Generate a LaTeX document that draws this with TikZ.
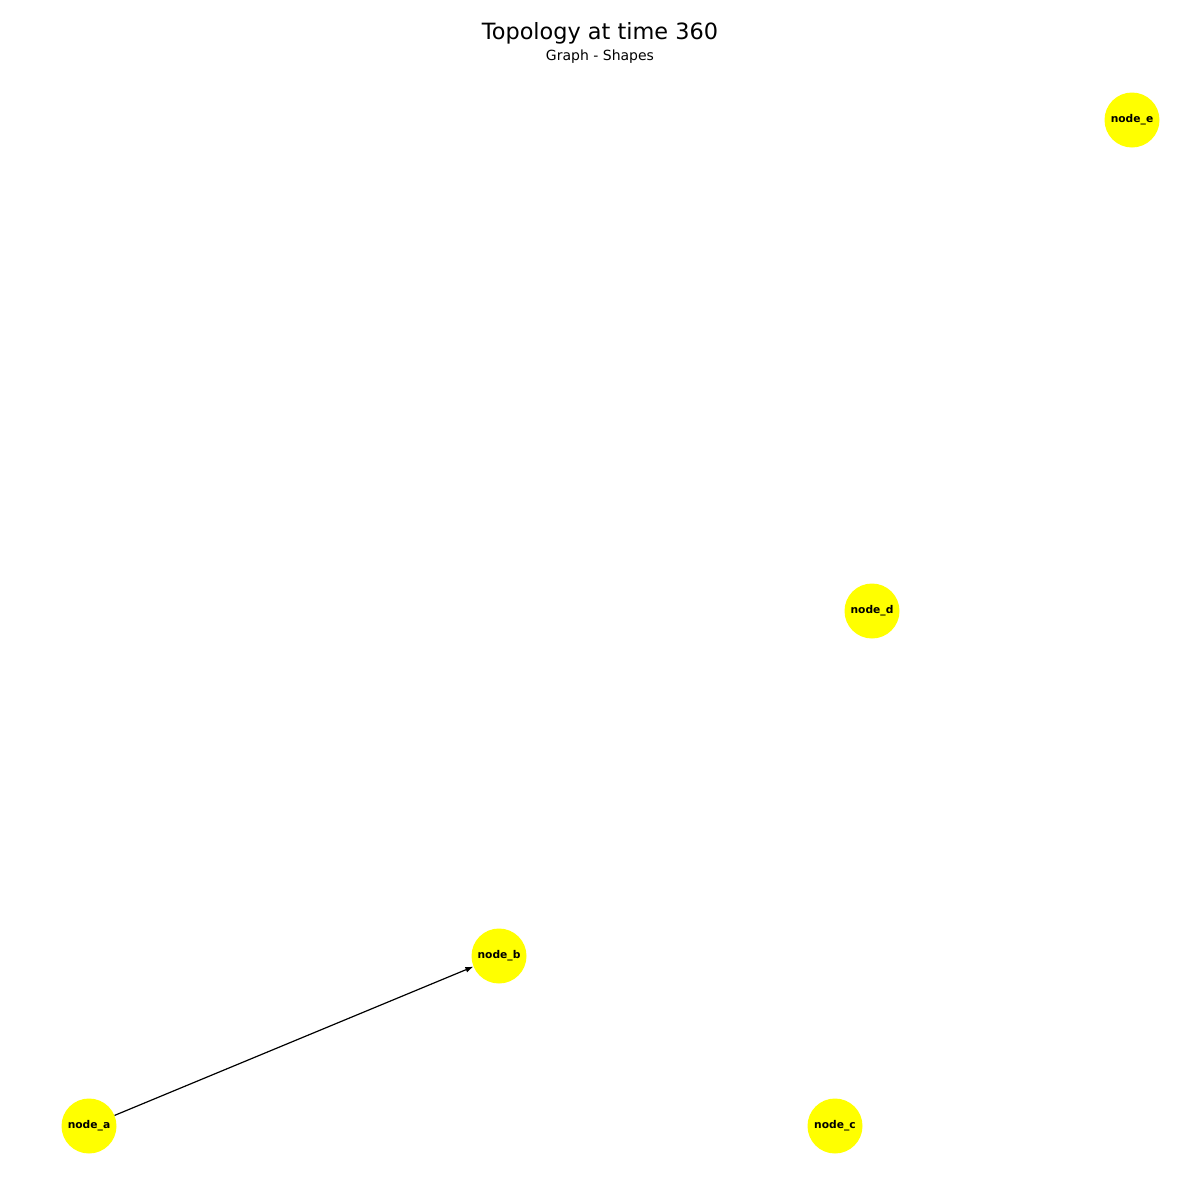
\documentclass[tikz,border=0pt]{standalone}
\usepackage{fontspec}
\setmainfont{DejaVu Sans}
\usetikzlibrary{arrows.meta}

\definecolor{nodefill}{RGB}{255,255,0}
\tikzset{
	vertex/.style={circle, fill=nodefill, draw=none, minimum size=55pt, inner sep=0pt, font=\fontsize{10.7}{12}\selectfont\bfseries},
	link/.style={draw=black, line width=1.2pt, -{Latex[length=8pt, width=6pt]}}
}

\begin{document}
\begin{tikzpicture}[x=1pt, y=-1pt]
	\useasboundingbox[fill=white] (0, 0) rectangle (1200, 1200);
	\node[font=\fontsize{22.4}{26}\selectfont] (title) at (600, 33) {Topology at time 360};
	\node[font=\fontsize{14}{16}\selectfont] (subtitle) at (600, 57) {Graph - Shapes};
	\node[vertex] (na) at (89, 1126) {node\_a};
	\node[vertex] (nb) at (499, 956) {node\_b};
	\node[vertex] (nc) at (835, 1126) {node\_c};
	\node[vertex] (nd) at (872, 611) {node\_d};
	\node[vertex] (ne) at (1132, 120) {node\_e};
	\draw[link] (na) -- (nb);
\end{tikzpicture}
\end{document}
